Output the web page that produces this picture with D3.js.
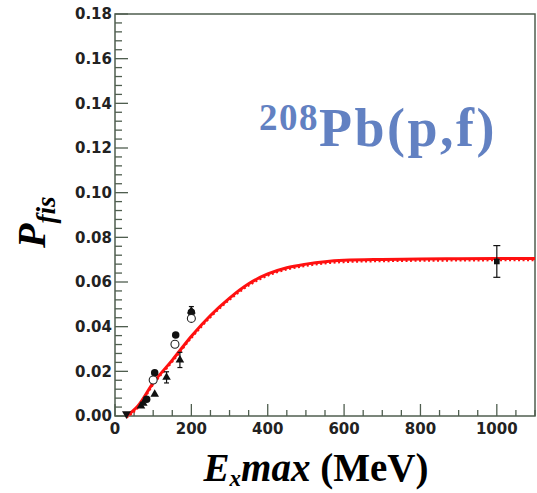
<!DOCTYPE html>
<html>
<head>
<meta charset="utf-8">
<script src="https://cdn.jsdelivr.net/npm/d3@7"></script>
<style>
  html, body { margin: 0; padding: 0; background: #fff; }
  svg { display: block; }
</style>
</head>
<body>
<svg id="chart" width="537" height="493"></svg>
<script>
// Model curve: fission probability vs maximum excitation energy
const curveE = [30, 60, 100, 150, 200, 250, 300, 350, 400, 450, 500, 550, 600, 700, 800, 900, 1000, 1100];
const curveP = [0.000, 0.0045, 0.0148, 0.0250, 0.0357, 0.0450, 0.0528, 0.0592, 0.0636, 0.0664, 0.0680, 0.0691, 0.0697, 0.0701, 0.0703, 0.0704, 0.0705, 0.0705];

// Measurements, filled circles
const filledE = [83, 104, 159, 200];
const filledP = [0.0075, 0.0194, 0.0363, 0.0465];
// Measurements, open circles
const openE = [100, 157, 200];
const openP = [0.0161, 0.0321, 0.0437];
// Measurements, triangles (with errors where shown)
const triE = [68, 74, 104, 135, 170, 200];
const triP = [0.0045, 0.0057, 0.0097, 0.0173, 0.0251, 0.0470];
const triErr = [0, 0, 0, 0.0025, 0.0034, 0.0020];
// Measurement, inverted triangle
const invE = [30];
const invP = [0.0005];
// High-energy point with error bar
const squareE = [1000];
const squareP = [0.0692];
const squareErr = [0.0071];

const xTicks = [0, 200, 400, 600, 800, 1000];
const yTicks = [0.00, 0.02, 0.04, 0.06, 0.08, 0.10, 0.12, 0.14, 0.16, 0.18];

const svg = d3.select("#chart");
const L = 115, R = 535, T = 14, B = 416;
const x = d3.scaleLinear().domain([0, 1100]).range([L, R]);
const y = d3.scaleLinear().domain([0, 0.18]).range([B, T]);
const axisColor = "#4f5e4f";

// Frame
svg.append("rect").attr("x", L).attr("y", T).attr("width", R - L).attr("height", B - T)
  .attr("fill", "none").attr("stroke", axisColor).attr("stroke-width", 1.5);

// Inward ticks, major and minor
const g = svg.append("g").attr("stroke", axisColor).attr("stroke-width", 1.3);
d3.range(0, 1101, 50).forEach(v => {
  const major = v % 200 === 0;
  g.append("line").attr("x1", x(v)).attr("x2", x(v)).attr("y1", B).attr("y2", B - (major ? 12 : 6));
});
d3.range(0, 46).forEach(i => {
  const v = i * 0.004;
  const major = i % 5 === 0;
  g.append("line").attr("x1", L).attr("x2", L + (major ? 13 : 7)).attr("y1", y(v)).attr("y2", y(v));
});

// Tick labels
const tickFont = "'DejaVu Sans', sans-serif";
svg.append("g").selectAll("text").data(xTicks).join("text")
  .attr("x", d => x(d)).attr("y", 434).attr("text-anchor", "middle")
  .attr("font-family", tickFont).attr("font-weight", "bold").attr("font-size", 15)
  .attr("fill", "#222").text(d => d);
svg.append("g").selectAll("text").data(yTicks).join("text")
  .attr("x", 112).attr("y", d => y(d)).attr("dy", "0.36em").attr("text-anchor", "end")
  .attr("font-family", tickFont).attr("font-weight", "bold").attr("font-size", 15)
  .attr("fill", "#222").text(d => d.toFixed(2));

// Model curve
const line = d3.line().x((d, i) => x(curveE[i])).y(d => y(d)).curve(d3.curveMonotoneX);
svg.append("path").datum(curveP).attr("d", line)
  .attr("fill", "none").attr("stroke", "#ff1010").attr("stroke-width", 3);
svg.append("path").datum(curveP).attr("d", line).attr("transform", "translate(0,1.8)")
  .attr("fill", "none").attr("stroke", "#ff1010").attr("stroke-width", 2)
  .attr("stroke-dasharray", "2,2.5");

// Error bars helper
function errBar(e, p, err, cap) {
  if (!err) return;
  const eg = svg.append("g").attr("stroke", "#111").attr("stroke-width", 1.2);
  eg.append("line").attr("x1", x(e)).attr("x2", x(e)).attr("y1", y(p - err)).attr("y2", y(p + err));
  [p - err, p + err].forEach(v => eg.append("line")
    .attr("x1", x(e) - cap).attr("x2", x(e) + cap).attr("y1", y(v)).attr("y2", y(v)));
}
triE.forEach((e, i) => errBar(e, triP[i], triErr[i], 2.5));
squareE.forEach((e, i) => errBar(e, squareP[i], squareErr[i], 3.5));

// Markers
const sym = (type, size) => d3.symbol().type(type).size(size)();
function markers(E, P, path, fill, stroke) {
  svg.append("g").selectAll("path").data(E).join("path")
    .attr("d", path)
    .attr("transform", (d, i) => `translate(${x(d)},${y(P[i])})`)
    .attr("fill", fill).attr("stroke", stroke).attr("stroke-width", 1.1);
}
markers(triE, triP, sym(d3.symbolTriangle, 32), "#111", "none");
markers(filledE, filledP, sym(d3.symbolCircle, 44), "#111", "none");
markers(openE, openP, sym(d3.symbolCircle, 50), "#fff", "#222");
svg.append("g").selectAll("path").data(invE).join("path")
  .attr("d", sym(d3.symbolTriangle, 34))
  .attr("transform", (d, i) => `translate(${x(d)},${y(invP[i]) - 1}) rotate(180)`)
  .attr("fill", "#111");
markers(squareE, squareP, sym(d3.symbolSquare, 32), "#111", "none");

// Axis titles
const serif = "'Liberation Serif', 'Times New Roman', serif";
const xt = svg.append("text").attr("x", 316).attr("y", 481).attr("text-anchor", "middle")
  .attr("font-family", serif).attr("font-weight", "bold").attr("font-size", 39).attr("fill", "#000");
xt.append("tspan").attr("font-style", "italic").text("E");
xt.append("tspan").attr("font-style", "italic").attr("font-size", 23).attr("dy", 5).text("x");
xt.append("tspan").attr("font-style", "italic").attr("dy", -5).text("max");
xt.append("tspan").text(" (MeV)");

const yt = svg.append("text").attr("transform", "translate(45,248) rotate(-90)")
  .attr("font-family", serif).attr("font-weight", "bold").attr("font-style", "italic")
  .attr("font-size", 40).attr("fill", "#000");
yt.append("tspan").text("P");
yt.append("tspan").attr("font-size", 27).attr("dy", 10).text("fis");

// Reaction label
const lab = svg.append("text").attr("x", 259).attr("y", 146)
  .attr("font-family", serif).attr("font-weight", "bold").attr("fill", "#6281c2");
lab.append("tspan").attr("font-size", 37).attr("letter-spacing", 1.5).attr("dy", -16).text("208");
lab.append("tspan").attr("font-size", 54).attr("letter-spacing", 2.5).attr("dy", 16).text("Pb(p,f)");
</script>
</body>
</html>
